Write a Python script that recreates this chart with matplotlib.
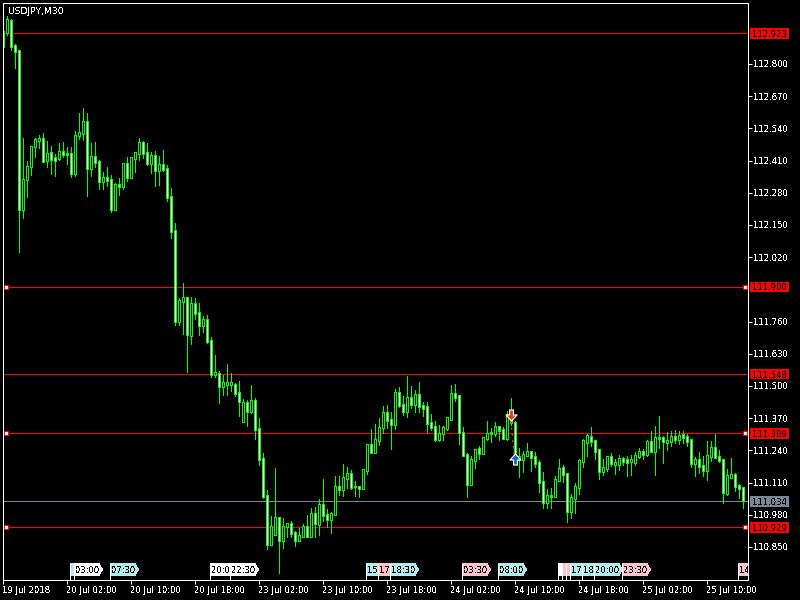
import matplotlib
matplotlib.use("Agg")
import matplotlib.pyplot as plt
from matplotlib.patches import Polygon, Rectangle
from matplotlib.path import Path
from matplotlib.transforms import blended_transform_factory

opens = [112.872,112.925,112.977,112.876,112.856,112.214,112.335,112.384,112.465,112.489,
112.497,112.412,112.444,112.424,112.420,112.448,112.440,112.440,112.356,112.509,
112.521,112.566,112.376,112.428,112.408,112.327,112.343,112.335,112.214,112.315,
112.307,112.396,112.343,112.420,112.440,112.481,112.444,112.396,112.432,112.368,
112.392,112.376,112.263,112.129,111.762,111.839,111.855,111.702,111.831,111.798,
111.742,111.770,111.685,111.548,111.552,111.496,111.504,111.504,111.504,111.475,
111.358,111.435,111.395,111.443,111.330,111.209,111.056,110.858,110.902,110.967,
110.878,110.934,110.943,110.910,110.878,110.894,110.934,110.894,110.983,110.939,
111.023,110.979,110.959,110.979,111.096,111.080,111.128,111.148,111.092,111.096,
111.084,111.157,111.262,111.233,111.278,111.334,111.391,111.366,111.346,111.475,
111.427,111.395,111.455,111.427,111.467,111.419,111.415,111.354,111.338,111.282,
111.306,111.330,111.366,111.471,111.463,111.314,111.225,111.104,111.197,111.249,
111.229,111.286,111.306,111.306,111.338,111.326,111.286,111.354,111.354,111.201,
111.201,111.221,111.237,111.217,111.189,111.116,111.031,111.052,111.052,111.120,
111.169,111.148,110.995,111.044,111.088,111.193,111.270,111.294,111.278,111.245,
111.153,111.165,111.217,111.181,111.181,111.209,111.201,111.193,111.189,111.217,
111.237,111.225,111.274,111.237,111.286,111.290,111.270,111.274,111.294,111.282,
111.302,111.294,111.282,111.185,111.205,111.177,111.157,111.217,111.253,111.217,
111.201,111.064,111.132,111.144,111.100,111.088]
highs = [112.929,112.993,112.981,112.880,112.856,112.501,112.408,112.469,112.501,112.513,
112.521,112.489,112.469,112.436,112.481,112.485,112.465,112.465,112.529,112.602,
112.622,112.602,112.481,112.485,112.412,112.364,112.384,112.351,112.319,112.339,
112.400,112.424,112.424,112.444,112.501,112.489,112.481,112.444,112.448,112.428,
112.452,112.392,112.299,112.158,111.855,111.916,111.859,111.859,111.855,111.835,
111.782,111.786,111.698,111.625,111.560,111.544,111.589,111.552,111.512,111.520,
111.447,111.443,111.504,111.451,111.371,111.229,111.080,110.975,111.169,110.971,
110.967,110.947,110.955,110.914,110.926,110.943,110.979,111.007,111.011,111.044,
111.124,111.003,110.991,111.136,111.136,111.185,111.173,111.161,111.116,111.096,
111.165,111.266,111.326,111.346,111.371,111.419,111.423,111.395,111.488,111.496,
111.459,111.540,111.500,111.484,111.516,111.435,111.435,111.387,111.358,111.342,
111.338,111.375,111.504,111.508,111.463,111.334,111.229,111.217,111.245,111.257,
111.290,111.358,111.330,111.354,111.338,111.334,111.399,111.451,111.358,111.249,
111.237,111.270,111.237,111.233,111.201,111.153,111.084,111.088,111.136,111.205,
111.181,111.148,111.064,111.108,111.205,111.286,111.306,111.334,111.282,111.245,
111.205,111.217,111.229,111.205,111.221,111.213,111.217,111.221,111.233,111.249,
111.245,111.282,111.318,111.338,111.379,111.298,111.314,111.318,111.322,111.318,
111.318,111.306,111.282,111.213,111.233,111.217,111.278,111.278,111.306,111.241,
111.201,111.165,111.209,111.148,111.104,111.088]
lows = [112.872,112.917,112.856,112.783,112.041,112.178,112.263,112.351,112.424,112.461,
112.408,112.384,112.356,112.347,112.412,112.424,112.396,112.343,112.347,112.497,
112.493,112.267,112.347,112.384,112.295,112.295,112.307,112.202,112.214,112.271,
112.295,112.327,112.339,112.364,112.412,112.420,112.392,112.360,112.307,112.311,
112.368,112.247,112.097,111.746,111.746,111.710,111.556,111.669,111.770,111.706,
111.718,111.673,111.536,111.536,111.431,111.463,111.463,111.480,111.459,111.379,
111.358,111.338,111.391,111.286,111.181,111.048,110.842,110.858,110.902,110.745,
110.846,110.890,110.890,110.854,110.874,110.894,110.894,110.894,110.890,110.898,
110.955,110.930,110.906,110.979,111.060,111.056,111.088,111.084,111.056,111.052,
111.084,111.144,111.233,111.233,111.262,111.310,111.330,111.245,111.326,111.415,
111.383,111.375,111.411,111.395,111.395,111.379,111.314,111.322,111.278,111.278,
111.282,111.322,111.366,111.439,111.266,111.217,111.052,111.104,111.169,111.205,
111.229,111.282,111.274,111.298,111.282,111.286,111.282,111.342,111.217,111.132,
111.153,111.217,111.157,111.173,111.072,111.007,111.007,111.007,111.052,111.120,
111.112,110.951,110.967,110.987,111.064,111.173,111.217,111.257,111.205,111.124,
111.140,111.157,111.177,111.144,111.161,111.181,111.136,111.140,111.181,111.209,
111.205,111.217,111.233,111.140,111.249,111.189,111.241,111.257,111.270,111.266,
111.270,111.257,111.173,111.136,111.148,111.136,111.120,111.197,111.209,111.193,
111.027,111.060,111.128,111.076,111.048,111.007]
closes = [112.929,112.981,112.872,112.852,112.214,112.335,112.384,112.465,112.493,112.497,
112.408,112.440,112.416,112.412,112.448,112.436,112.436,112.356,112.513,112.525,
112.566,112.376,112.428,112.404,112.327,112.343,112.331,112.214,112.315,112.307,
112.396,112.343,112.424,112.444,112.481,112.440,112.396,112.432,112.368,112.392,
112.372,112.259,112.125,111.762,111.843,111.855,111.706,111.831,111.794,111.742,
111.770,111.681,111.548,111.556,111.496,111.512,111.512,111.512,111.471,111.439,
111.435,111.395,111.443,111.326,111.205,111.052,110.858,110.934,110.967,110.878,
110.934,110.943,110.906,110.878,110.898,110.934,110.894,110.983,110.943,111.023,
110.975,110.959,110.983,111.096,111.080,111.132,111.148,111.088,111.096,111.084,
111.161,111.262,111.233,111.282,111.334,111.391,111.362,111.346,111.475,111.423,
111.395,111.455,111.427,111.467,111.415,111.407,111.350,111.334,111.282,111.306,
111.334,111.371,111.471,111.455,111.310,111.221,111.104,111.201,111.245,111.229,
111.290,111.306,111.310,111.338,111.322,111.286,111.383,111.383,111.221,111.217,
111.225,111.237,111.213,111.185,111.112,111.031,111.056,111.056,111.124,111.165,
111.144,110.995,111.048,111.092,111.197,111.278,111.298,111.274,111.237,111.153,
111.169,111.217,111.185,111.189,111.209,111.193,111.189,111.201,111.221,111.237,
111.225,111.274,111.237,111.290,111.290,111.274,111.278,111.294,111.282,111.298,
111.290,111.274,111.185,111.205,111.173,111.157,111.221,111.253,111.213,111.197,
111.068,111.140,111.144,111.096,111.084,111.036]

title = "USDJPY,M30"
y_ticks = [112.800,112.670,112.540,112.410,112.280,112.150,112.020,111.760,111.630,
           111.500,111.370,111.240,111.110,110.980,110.850]
x_tick_index = [0,16,32,48,64,80,96,112,128,144,160,176]
x_tick_labels = ["19 Jul 2018","20 Jul 02:00","20 Jul 10:00","20 Jul 18:00","23 Jul 02:00",
                 "23 Jul 10:00","23 Jul 18:00","24 Jul 02:00","24 Jul 10:00","24 Jul 18:00",
                 "25 Jul 02:00","25 Jul 10:00"]
level_prices = [112.923,111.900,111.548,111.309,110.929]
handle_prices = [111.900,111.309,110.929]
bid_price = 111.034
tag_index = [17,18,27,52,57,91,94,97,115,124,139,140,141,142,145,148,155,184]
tag_labels = ["","03:00","07:30","20:0","22:30","15","17","18:30","03:30","08:00",
              "","","","17","18","20:00","23:30","14"]
tag_colors = ["#AFEEEE","#FFFFFF","#AFEEEE","#FFFFFF","#FFFFFF","#AFEEEE","#FFC0CB","#AFEEEE",
              "#FFC0CB","#AFEEEE","#FFFFFF","#FFC0CB","#FFC0CB","#AFEEEE","#AFEEEE","#AFEEEE",
              "#FFC0CB","#FFC0CB"]
arrow_index = [127,128]
arrow_prices = [111.383,111.205]

plt.rcParams["font.family"] = ["DejaVu Sans"]
plt.rcParams["text.antialiased"] = False
FS = 6.1

fig = plt.figure(figsize=(8,6), dpi=100, facecolor="black")
L, R, T, B = 2.5, 747.5, 2.5, 579.5
PX = 0.004037
ax = fig.add_axes([L/800, (600-B)/600, (R-L)/800, (B-T)/600], facecolor="black")
ax.set_xlim(0, (R-L)/4)
ax.set_ylim(113.058-PX*B, 113.058-PX*T)
for s in ax.spines.values():
    s.set_color("white"); s.set_linewidth(0.72); s.set_zorder(30)

n = len(opens)
idx = list(range(n))
tops = [max(o, c) for o, c in zip(opens, closes)]
bots = [min(o, c) for o, c in zip(opens, closes)]
ONE = 0.72
ax.vlines(idx, lows, highs, colors="#00FF00", linewidth=ONE, antialiased=False, zorder=2)
ax.vlines(idx, [b-PX/2 for b in bots], [t+PX/2 for t in tops], colors="#00FF00",
          linewidth=3*ONE, antialiased=False, zorder=3)
inner = [i for i in idx if tops[i]-bots[i] > 1.2*PX]
ax.vlines(inner, [bots[i]+PX/2 for i in inner], [tops[i]-PX/2 for i in inner],
          colors=["white" if closes[i] < opens[i] else "black" for i in inner],
          linewidth=ONE, antialiased=False, zorder=4)

# horizontal levels
for p in level_prices:
    ax.axhline(p, color="#FF0000", linewidth=ONE, antialiased=False, zorder=1)
ax.axhline(bid_price, color="#778899", linewidth=ONE, antialiased=False, zorder=1)
for p in handle_prices:
    ax.plot([0.75, 185.5], [p, p], ls="none", marker="s", ms=2.9, mfc="white", mec="#FF0000",
            mew=0.72, clip_on=False, zorder=6, antialiased=False)

# y axis
ax.yaxis.tick_right()
ax.set_yticks(y_ticks, [f"{v:.3f}" for v in y_ticks])
ax.tick_params(axis="y", colors="white", length=3.2, width=ONE, pad=0.8, labelsize=FS)
ax.set_xticks(x_tick_index, x_tick_labels)
ax.tick_params(axis="x", colors="white", length=2.6, width=ONE, pad=2.2, labelsize=FS)
for lab in ax.get_xticklabels():
    lab.set_ha("left")

yt = blended_transform_factory(ax.transAxes, ax.transData)
box_x0 = 1 + 2.5/745
box_w = 39/745
box_h = 5.3*PX
for p, c in [(v, "#FF0000") for v in level_prices] + [(bid_price, "#778899")]:
    ax.add_patch(Rectangle((box_x0, p-box_h), box_w, 2*box_h, transform=yt, facecolor=c,
                           edgecolor="none", clip_on=False, zorder=7, antialiased=False))
    ax.text(box_x0+box_w/2, p, f"{p:.3f}", transform=yt, color="black", fontsize=FS,
            ha="center", va="center_baseline", clip_on=False, zorder=8)

# time tags
xt = ax.get_xaxis_transform()
hpx = 1/577
for k, (i, lab, c) in enumerate(zip(tag_index, tag_labels, tag_colors)):
    z = 10 + 2*k
    x0 = i - 0.125
    x1 = x0 + 6.2
    x2 = x0 + 7.1
    pts = [(x0, 4*hpx), (x1, 4*hpx), (x2, 10*hpx), (x1, 16*hpx), (x0, 16*hpx)]
    ax.add_patch(Polygon(pts, closed=True, transform=xt, facecolor=c, edgecolor="none",
                         zorder=z, clip_on=True, antialiased=False))
    ax.plot([x0, x0], [0, 16*hpx], transform=xt, color="white", linewidth=ONE,
            antialiased=False, zorder=z, clip_on=True)
    if lab:
        ax.text(x0+0.4, 10*hpx, lab, transform=xt, color="black", fontsize=FS, ha="left",
                va="center_baseline", clip_on=True, zorder=z+1)

# trade arrows
ax.plot(arrow_index, arrow_prices, color="#E04020", linewidth=0.9, ls=(0,(2,3)), zorder=5)
down = Path([(-.35,1),(.35,1),(.35,.1),(1,.1),(0,-1),(-1,.1),(-.35,.1),(-.35,1)], closed=True)
up = Path([(-.35,-1),(.35,-1),(.35,-.1),(1,-.1),(0,1),(-1,-.1),(-.35,-.1),(-.35,-1)], closed=True)
ax.plot(arrow_index[0], arrow_prices[0], marker=down, ms=8, mfc="#E04020", mec="white",
        mew=0.8, zorder=6)
ax.plot(arrow_index[1], arrow_prices[1], marker=up, ms=8, mfc="#1E64B4", mec="white",
        mew=0.8, zorder=6)

ax.text(6/745, 1-9.5/577, title, transform=ax.transAxes, color="white", fontsize=6.7,
        ha="left", va="center", zorder=40)

fig.savefig("out.png", dpi=100, facecolor="black")
